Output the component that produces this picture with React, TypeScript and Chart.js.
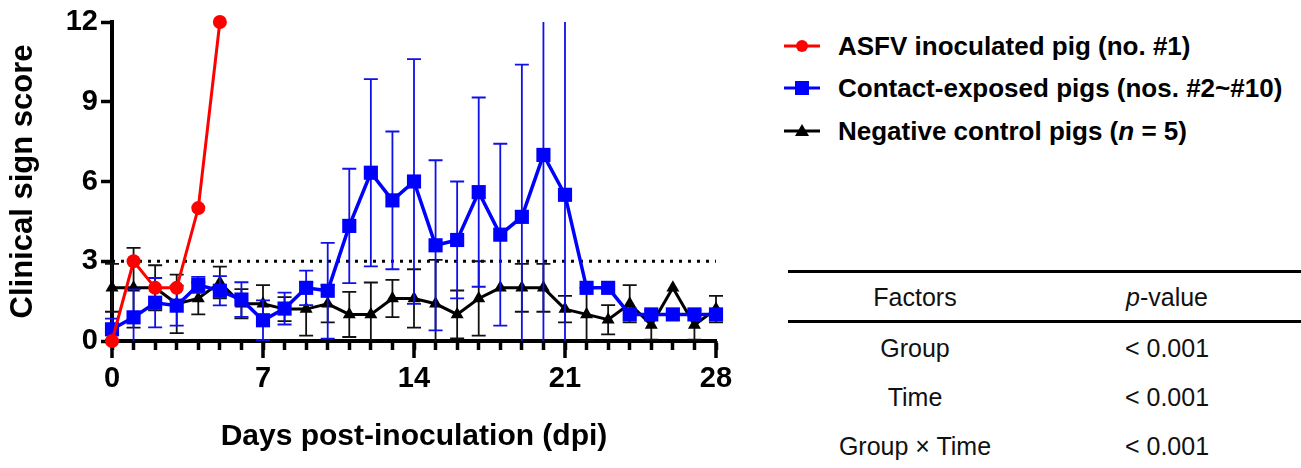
import React, { useEffect, useRef } from 'react';
import { Chart, registerables } from 'chart.js';

Chart.register(...registerables);

// ---------- data ----------
const days = [0, 1, 2, 3, 4, 5, 6, 7, 8, 9, 10, 11, 12, 13, 14, 15, 16, 17, 18, 19, 20, 21, 22, 23, 24, 25, 26, 27, 28];
const asfvDays = [0, 1, 2, 3, 4, 5];
const asfvScore = [0, 3, 2, 2, 5, 12];
const contactMean = [0.44, 0.89, 1.44, 1.33, 2.11, 1.89, 1.56, 0.78, 1.22, 2.0, 1.89, 4.33, 6.33, 5.29, 6.0, 3.6, 3.8, 5.6, 4.0, 4.67, 7.0, 5.5, 2.0, 2.0, 1.0, 1.0, 1.0, 1.0, 1.0];
const contactSD = [0.4, 1.05, 0.93, 0.75, 0.3, 0.55, 0.65, 0.75, 0.6, 0.65, 1.8, 2.15, 3.52, 2.59, 4.6, 3.2, 2.2, 3.56, 3.42, 5.73, 7.5, 7.0, 0, 0, 0, 0, 0, 0, 0];
const controlMean = [2.0, 2.0, 2.0, 1.4, 1.6, 2.2, 1.4, 1.4, 1.2, 1.2, 1.4, 1.0, 1.0, 1.6, 1.6, 1.4, 1.0, 1.6, 2.0, 2.0, 2.0, 1.2, 1.0, 0.8, 1.4, 0.6, 2.0, 0.6, 1.2];
const controlSD = [0.9, 1.5, 0.85, 1.1, 0.6, 0.6, 0.55, 0.7, 0.45, 1.0, 0.7, 0.85, 1.2, 0.7, 1.1, 1.65, 0.9, 1.4, 0, 0.9, 0.9, 0.5, 1.0, 0.55, 0.7, 0.55, 0, 0.55, 0.5];
const thresholdDays = [0, 28];
const thresholdScore = [3, 3];
const xMajorTicks = [0, 7, 14, 21, 28];
const yTickStep = 3;
const yMax = 12;
const xMax = 28;

const legendLabels = [
  'ASFV inoculated pig (no. #1)',
  'Contact-exposed pigs (nos. #2~#10)',
  'Negative control pigs (n = 5)',
];
const tableHeaders = ['Factors', 'p-value'];
const tableFactors = ['Group', 'Time', 'Group × Time'];
const tablePValues = ['< 0.001', '< 0.001', '< 0.001'];

const RED = '#ff0000';
const BLUE = '#0000ff';
const BLACK = '#000000';
const FONT = '"Liberation Sans", Arial, Helvetica, sans-serif';

const errorBarPlugin = {
  id: 'errorBars',
  beforeDatasetDraw(chart: any, args: any) {
    const ds = chart.data.datasets[args.index];
    if (!ds.errors) return;
    const { ctx, chartArea, scales } = chart;
    const x = scales.x;
    const y = scales.y;
    ctx.save();
    ctx.beginPath();
    ctx.rect(chartArea.left - 30, chartArea.top, chartArea.right - chartArea.left + 60, chartArea.bottom - chartArea.top);
    ctx.clip();
    ctx.strokeStyle = ds.errorColor;
    ctx.lineWidth = 1.8;
    ds.data.forEach((pt: any, i: number) => {
      const sd = ds.errors[i];
      if (!sd) return;
      const px = x.getPixelForValue(pt.x);
      const top = y.getPixelForValue(pt.y + sd);
      const bot = y.getPixelForValue(pt.y - sd);
      ctx.beginPath();
      ctx.moveTo(px, top);
      ctx.lineTo(px, bot);
      ctx.moveTo(px - 7, top);
      ctx.lineTo(px + 7, top);
      ctx.moveTo(px - 7, bot);
      ctx.lineTo(px + 7, bot);
      ctx.stroke();
    });
    ctx.restore();
  },
};

const majorTickPlugin = {
  id: 'majorTicks',
  beforeDatasetsDraw(chart: any) {
    const { ctx, scales, chartArea } = chart;
    const x = scales.x;
    ctx.save();
    ctx.strokeStyle = BLACK;
    ctx.lineWidth = 3.5;
    xMajorTicks.forEach((v) => {
      const px = x.getPixelForValue(v);
      ctx.beginPath();
      ctx.moveTo(px, chartArea.bottom);
      ctx.lineTo(px, chartArea.bottom + 17);
      ctx.stroke();
    });
    ctx.restore();
  },
};

function ChartCanvas() {
  const ref = useRef<HTMLCanvasElement | null>(null);
  useEffect(() => {
    if (!ref.current) return;
    const chart = new Chart(ref.current, {
      type: 'line',
      data: {
        datasets: [
          {
            label: legendLabels[0],
            data: asfvDays.map((d, i) => ({ x: d, y: asfvScore[i] })),
            borderColor: RED,
            backgroundColor: RED,
            borderWidth: 3,
            pointStyle: 'circle',
            pointRadius: 7,
            pointBackgroundColor: RED,
            pointBorderColor: RED,
            pointBorderWidth: 0,
            clip: false,
          } as any,
          {
            label: legendLabels[1],
            data: days.map((d, i) => ({ x: d, y: contactMean[i] })),
            errors: contactSD,
            errorColor: '#1010e8',
            borderColor: BLUE,
            backgroundColor: BLUE,
            borderWidth: 3.5,
            pointStyle: 'rect',
            pointRadius: 10,
            pointBackgroundColor: BLUE,
            pointBorderColor: BLUE,
            pointBorderWidth: 0,
            clip: false,
          } as any,
          {
            label: legendLabels[2],
            data: days.map((d, i) => ({ x: d, y: controlMean[i] })),
            errors: controlSD,
            errorColor: '#111111',
            borderColor: BLACK,
            backgroundColor: BLACK,
            borderWidth: 3,
            pointStyle: 'triangle',
            pointRadius: 7.5,
            pointBackgroundColor: BLACK,
            pointBorderColor: BLACK,
            pointBorderWidth: 0,
            clip: false,
          } as any,
          {
            label: 'threshold',
            data: thresholdDays.map((d, i) => ({ x: d, y: thresholdScore[i] })),
            borderColor: BLACK,
            borderWidth: 3,
            borderDash: [3, 6],
            borderCapStyle: 'butt',
            pointRadius: 0,
            clip: false,
          } as any,
        ],
      },
      options: {
        responsive: false,
        animation: false,
        events: [],
        layout: { padding: { left: 0, right: 44, top: 22, bottom: 0 } },
        plugins: {
          legend: { display: false },
          tooltip: { enabled: false },
        },
        scales: {
          x: {
            type: 'linear',
            min: 0,
            max: xMax,
            afterFit: (s: any) => { s.height = 127; },
            grid: { drawOnChartArea: false, drawTicks: true, tickLength: 9, tickWidth: 3.5, tickColor: BLACK },
            border: { display: true, color: BLACK, width: 4 },
            ticks: {
              stepSize: 1,
              autoSkip: false,
              maxRotation: 0,
              padding: 12,
              color: BLACK,
              font: { family: FONT, size: 29, weight: 'bold' },
              callback: (v: any) => (xMajorTicks.includes(Number(v)) ? String(v) : ''),
            },
            title: {
              display: true,
              text: 'Days post-inoculation (dpi)',
              color: BLACK,
              font: { family: FONT, size: 30, weight: 'bold' },
              padding: { top: 0, bottom: 13 },
            },
          },
          y: {
            type: 'linear',
            min: 0,
            max: yMax,
            afterFit: (s: any) => { s.width = 112; },
            grid: { drawOnChartArea: false, drawTicks: true, tickLength: 11, tickWidth: 3.5, tickColor: BLACK },
            border: { display: true, color: BLACK, width: 4 },
            ticks: {
              stepSize: yTickStep,
              padding: 3,
              color: BLACK,
              font: { family: FONT, size: 29, weight: 'bold' },
            },
            title: {
              display: true,
              text: 'Clinical sign score',
              color: BLACK,
              font: { family: FONT, size: 31, weight: 'bold' },
              padding: { top: 5, bottom: 0 },
            },
          },
        },
      } as any,
      plugins: [errorBarPlugin, majorTickPlugin],
    });
    return () => chart.destroy();
  }, []);
  return <canvas ref={ref} width={760} height={468} style={{ position: 'absolute', left: 0, top: 0 }} />;
}

function Marker({ kind, color }: { kind: number; color: string }) {
  return (
    <svg width={40} height={20} style={{ position: 'absolute', left: 782, top: -10 }}>
      <line x1={2} y1={10} x2={38} y2={10} stroke={color} strokeWidth={3} />
      {kind === 0 && <circle cx={20} cy={10} r={6} fill={color} />}
      {kind === 1 && <rect x={13} y={3} width={14} height={14} fill={color} />}
      {kind === 2 && <polygon points="20,3 27,15 13,15" fill={color} />}
    </svg>
  );
}

function LegendText({ text }: { text: string }) {
  const idx = text.indexOf('(n = ');
  if (idx < 0) return <>{text}</>;
  return (
    <>
      {text.slice(0, idx + 1)}
      <i>n</i>
      {text.slice(idx + 2)}
    </>
  );
}

export default function App() {
  const colors = [RED, BLUE, BLACK];
  const legendY = [46, 88, 131];
  const rowY = [348, 397, 446];
  const cell = (left: number, top: number) => ({
    position: 'absolute' as const, left, width: 200, top, fontSize: 25, lineHeight: '30px', textAlign: 'center' as const, color: '#111', whiteSpace: 'nowrap' as const,
  });
  return (
    <div style={{ position: 'absolute', left: 0, top: 0, width: 1301, height: 468, background: '#fff', overflow: 'hidden', fontFamily: FONT }}>
      <ChartCanvas />
      {legendLabels.map((lab, i) => (
        <div key={lab} style={{ position: 'absolute', left: 0, top: legendY[i], width: 1301, height: 0 }}>
          <Marker kind={i} color={colors[i]} />
          <div style={{ position: 'absolute', left: 838, top: -15, fontSize: 26, lineHeight: '30px', fontWeight: 'bold', whiteSpace: 'nowrap', color: '#000' }}>
            <LegendText text={lab} />
          </div>
        </div>
      ))}
      <div style={{ position: 'absolute', left: 788, top: 270, width: 513, height: 3, background: '#000' }} />
      <div style={{ position: 'absolute', left: 788, top: 320, width: 513, height: 3, background: '#000' }} />
      <div style={cell(815, 282)}>{tableHeaders[0]}</div>
      <div style={cell(1067, 282)}>
        <i>{tableHeaders[1].slice(0, 1)}</i>{tableHeaders[1].slice(1)}
      </div>
      {tableFactors.map((f, i) => (
        <React.Fragment key={f}>
          <div style={cell(815, rowY[i] - 15)}>{f}</div>
          <div style={cell(1067, rowY[i] - 15)}>{tablePValues[i]}</div>
        </React.Fragment>
      ))}
    </div>
  );
}
